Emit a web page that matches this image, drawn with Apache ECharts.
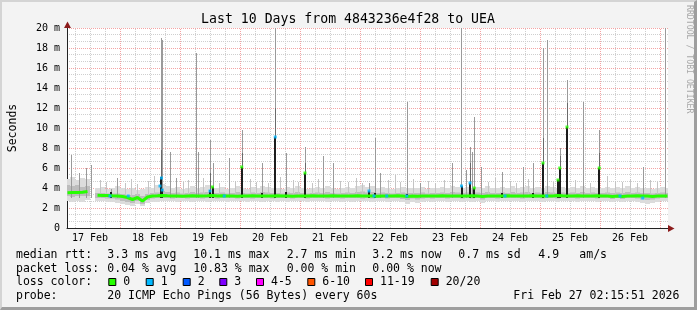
<!DOCTYPE html>
<html><head><meta charset="utf-8">
<script src="https://cdn.jsdelivr.net/npm/echarts@6/dist/echarts.min.js"></script>
<style>
html,body{margin:0;padding:0;background:#f3f3f3;}
#wrap{position:relative;width:697px;height:310px;overflow:hidden;}
#c{position:absolute;left:0;top:0;width:697px;height:310px;}
#frame{position:absolute;left:0;top:0;width:697px;height:310px;box-sizing:border-box;border-style:solid;border-width:2px 3px 3px 2px;border-color:#d4d4d4 #9e9e9e #9e9e9e #d4d4d4;pointer-events:none;}
</style></head><body>
<div id="wrap"><div id="c"></div><div id="frame"></div></div>
<script>
// ---------- DATA (hours since 17 Feb 00:00) ----------
const titleText = 'Last 10 Days from 4843236e4f28 to UEA';
const dayLabels = ['17 Feb','18 Feb','19 Feb','20 Feb','21 Feb','22 Feb','23 Feb','24 Feb','25 Feb','26 Feb'];
const dayLabelHours = [12,36,60,84,108,132,156,180,204,228];
const xMin = 2.8, xMax = 243.2;

// samples every 2 hours starting at hour 3
const sampleStart = 3, sampleStep = 2;
const median = [3.52,3.55,3.55,3.58,3.65,null,3.28,3.26,3.25,3.22,
 3.2,3.15,3.05,2.85,3.05,2.7,3.1,3.2,3.22,3.25,
 3.22,3.2,3.2,3.18,3.2,3.22,3.2,3.2,3.22,3.25,
 3.2,3.22,3.2,3.2,3.18,3.2,3.2,3.22,3.2,3.2,
 3.2,3.2,3.22,3.2,3.2,3.18,3.2,3.2,3.2,3.22,
 3.2,3.2,3.2,3.22,3.2,3.2,3.2,3.2,3.22,3.2,
 3.2,3.2,3.18,3.2,3.2,3.2,3.22,3.2,3.15,3.2,
 3.18,3.2,3.2,3.2,3.2,3.22,3.2,3.2,3.2,3.2,
 3.2,3.22,3.2,3.15,3.2,3.2,3.2,3.2,3.22,3.2,
 3.2,3.2,3.2,3.22,3.2,3.2,3.2,3.2,3.25,3.22,
 3.2,3.2,3.22,3.2,3.2,3.2,3.22,3.2,3.2,3.15,
 3.2,3.15,3.2,3.2,3.22,3.2,3.2,3.15,3.2,3.2,3.2];
const smokeLo = [2.7,2.6,2.7,2.6,2.8,null,2.7,2.7,2.6,2.6,
 2.5,2.4,2.3,2.2,2.4,2.2,2.5,2.6,2.6,2.7,
 2.7,2.7,2.6,2.7,2.7,2.6,2.7,2.7,2.6,2.7,
 2.7,2.7,2.6,2.7,2.7,2.7,2.6,2.7,2.7,2.6,
 2.7,2.7,2.6,2.7,2.6,2.7,2.7,2.7,2.6,2.7,
 2.7,2.7,2.6,2.7,2.7,2.6,2.7,2.6,2.7,2.7,
 2.7,2.6,2.7,2.7,2.6,2.7,2.7,2.6,2.4,2.6,
 2.5,2.6,2.7,2.6,2.7,2.7,2.6,2.7,2.7,2.6,
 2.7,2.6,2.7,2.5,2.7,2.7,2.6,2.7,2.7,2.7,
 2.7,2.6,2.7,2.7,2.7,2.6,2.7,2.7,2.6,2.7,
 2.7,2.7,2.6,2.7,2.7,2.7,2.6,2.7,2.7,2.6,
 2.7,2.6,2.7,2.7,2.6,2.5,2.4,2.5,2.6,2.7,2.7];
const smokeHi = [4.9,5.1,4.8,5.0,4.9,null,4.0,4.1,3.9,4.0,
 4.2,4.0,3.9,4.0,3.8,3.9,4.1,4.0,4.3,4.4,
 4.2,4.0,4.1,3.9,4.0,4.2,4.0,4.1,4.3,4.0,
 4.0,4.1,3.9,4.0,4.2,4.0,3.9,4.1,4.0,4.2,
 4.1,4.0,4.0,3.9,4.1,4.0,4.2,4.0,3.9,4.0,
 4.1,4.0,4.2,4.0,3.9,4.0,4.1,4.0,4.2,4.3,
 4.1,4.2,4.0,4.1,4.0,3.9,4.0,4.1,4.0,4.0,
 4.0,4.1,3.9,4.0,4.0,4.1,4.0,4.2,4.1,4.0,
 4.1,4.0,4.1,4.0,4.2,4.0,4.0,4.1,4.0,4.2,
 4.0,4.1,4.2,4.0,4.1,4.0,4.2,4.1,4.0,4.1,
 4.0,4.1,4.0,4.2,4.0,4.1,4.0,4.0,4.1,4.0,
 4.1,4.0,4.2,4.0,4.1,4.0,4.0,3.9,4.0,4.1,4.0];
const coreLo = [3.2,3.1,3.2,3.2,3.2,null,3.0,3.0,2.95,2.95,
 2.85,2.7,2.6,2.5,2.7,2.4,2.8,2.95,3.0,3.0,
 3.0,2.95,3.0,3.0,2.95,3.0,3.0,2.95,3.0,3.0,
 2.95,3.0,3.0,3.0,2.95,3.0,3.0,2.95,3.0,3.0,
 3.0,2.95,3.0,3.0,3.0,2.95,3.0,3.0,2.95,3.0,
 3.0,3.0,2.95,3.0,3.0,2.95,3.0,3.0,3.0,2.95,
 3.0,2.95,3.0,3.0,2.95,3.0,3.0,2.9,2.8,2.95,
 2.85,2.95,3.0,2.95,3.0,3.0,2.95,3.0,3.0,2.95,
 3.0,2.95,3.0,2.85,3.0,3.0,2.95,3.0,3.0,3.0,
 3.0,2.95,3.0,3.0,3.0,2.95,3.0,3.0,2.95,3.0,
 3.0,3.0,2.95,3.0,3.0,3.0,2.95,3.0,3.0,2.9,
 3.0,2.9,3.0,3.0,2.95,2.85,2.8,2.85,2.95,3.0,3.0];
const coreHi = [4.3,4.2,4.3,4.1,4.2,null,3.5,3.5,3.45,3.45,
 3.45,3.4,3.3,3.3,3.4,3.2,3.4,3.5,3.55,3.7,
 3.6,3.5,3.55,3.45,3.5,3.6,3.5,3.55,3.6,3.5,
 3.5,3.55,3.45,3.5,3.6,3.5,3.45,3.55,3.5,3.6,
 3.55,3.5,3.5,3.45,3.55,3.5,3.6,3.5,3.45,3.5,
 3.55,3.5,3.6,3.5,3.45,3.5,3.55,3.5,3.6,3.65,
 3.55,3.6,3.5,3.55,3.5,3.45,3.5,3.55,3.5,3.5,
 3.5,3.55,3.45,3.5,3.5,3.55,3.5,3.6,3.55,3.5,
 3.55,3.5,3.55,3.5,3.6,3.5,3.5,3.55,3.5,3.6,
 3.5,3.55,3.6,3.5,3.55,3.5,3.6,3.55,3.5,3.55,
 3.5,3.55,3.5,3.6,3.5,3.55,3.5,3.5,3.55,3.5,
 3.55,3.5,3.6,3.5,3.55,3.5,3.5,3.45,3.5,3.55,3.5];

// outlier pings (max of 20 pings) drawn as grey spikes
const spikeBase = 3.0;
const spikeHours = [4.4,7.6,10.3,12.3,20.4,22.8,40.3,40.9,43.8,46.4,54.2,55.0,60.0,61.0,67.6,72.7,80.7,86.1,90.4,98.0,
 105.2,109.2,123.6,126.0,128.0,138.7,144.0,156.7,160.3,162.4,164.0,164.7,165.7,168.4,176.7,185.3,189.3,193.2,194.9,199.9,
 202.8,209.3,215.7,233.2,242.0];
const spikeTops = [7.3,5.5,6.0,6.3,3.9,5.0,19.0,18.8,7.6,5.0,17.5,7.6,8.8,6.5,7.0,9.8,6.5,20.0,7.5,8.1,
 7.2,6.5,4.5,9.0,5.5,12.6,4.5,6.5,20.0,5.8,8.1,7.6,11.1,6.1,5.6,6.1,6.5,18.0,18.8,8.0,
 14.8,12.6,9.8,6.1,20.0];
// middle-density smoke above the outliers' base
const midHours = [40.3,60.0,72.7,86.1,98.0,164.0,193.2,199.9,202.8,215.7];
const midTops  = [7.8,5.5,7.5,12.0,6.5,6.5,9.0,7.2,12.5,7.5];
// faint smoke wisps
const wispHours = [16,18.4,26,28.4,30.8,35.2,37.6,49.2,51.2,57.2,63.6,70,76,78.4,83.2,88,93.2,95.2,100.8,103.2,
 112,115.2,118.4,120.8,131.2,134,136,141.2,147.2,150,153.6,171.2,174,180,182.4,187.2,197.2,206,212,218.8,
 222,224.8,228,230.8,236,238.8];
const wispTops = [4.8,4.6,4.5,4.9,4.4,4.7,5.2,4.6,4.8,5.0,4.5,4.7,4.9,4.6,4.5,5.1,4.8,4.6,4.5,4.9,
 4.7,4.6,5.0,4.5,4.8,5.3,4.6,4.9,4.7,4.5,4.8,4.6,5.0,4.7,4.5,4.9,4.6,4.8,4.5,5.2,
 4.7,4.6,4.9,4.5,4.8,4.6];
// dense smoke bars (all pings high)
const barHours = [20.4,40.3,40.9,60.0,61.0,72.7,80.7,86.1,90.4,98.0,123.6,126.0,138.7,160.6,164.0,165.7,176.7,189.3,193.2,199.2,199.9,202.8,215.7];
const barTops  = [3.6,5.1,3.9,3.8,4.1,6.1,3.5,9.1,3.6,5.5,3.7,3.5,3.4,4.2,4.5,4.0,3.5,3.5,6.5,4.8,6.0,10.1,6.0];
// median samples coloured by loss (index into lossColors)
const lossDotHours = [40.0,40.6,40.9,60.0,61.0,72.7,86.1,98.0,123.6,160.6,164.0,165.7,193.2,199.2,199.9,202.8,215.7,
 20.0,27.3,65.7,125.6,130.7,138.7,178.0,194.7,224.0,233.1];
const lossDotValues = [4.2,5.0,3.8,3.7,4.1,6.1,9.1,5.5,3.7,4.2,4.5,4.0,6.5,4.8,6.0,10.1,6.0,
 3.2,3.2,3.2,3.2,3.2,3.2,3.2,3.2,3.2,3.0];
const lossDotLevel = [1,1,1,1,0,0,1,0,1,1,1,0,0,0,0,0,0,
 1,1,1,1,1,1,1,1,1,1];

const lossLabels = ['0','1','2','3','4-5','6-10','11-19','20/20'];
const lossColors = ['#26ff00','#00b8ff','#0059ff','#7e00ff','#ff00fe','#ff5500','#ff0000','#a10000'];

const statRows = [
  ['median rtt:','3.3 ms avg','10.1 ms max','2.7 ms min','3.2 ms now','0.7 ms sd','4.9','am/s'],
  ['packet loss:','0.04 % avg','10.83 % max','0.00 % min','0.00 % now']
];
const probeRow = ['probe:','20 ICMP Echo Pings (56 Bytes) every 60s','Fri Feb 27 02:15:51 2026'];
const sideText = 'RRDTOOL / TOBI OETIKER';

// ---------- BUILD ----------
const MONO = '"DejaVu Sans Mono", monospace';
const sampleHours = median.map((_, i) => sampleStart + sampleStep * i);
const medianData = median.map((v, i) => [sampleHours[i], v]);
const smokeData = [];
median.forEach((_, i) => { if (smokeLo[i] != null) smokeData.push([sampleHours[i], smokeLo[i], smokeHi[i], coreLo[i], coreHi[i]]); });
const spikeData = spikeHours.map((h, i) => [h, spikeTops[i], spikeBase]);
const midData = midHours.map((h, i) => [h, midTops[i], spikeBase]);
const wispData = wispHours.map((h, i) => [h, wispTops[i], spikeBase]);
const barData = barHours.map((h, i) => [h, barTops[i], spikeBase]);
const dotData = lossDotHours.map((h, i) => ({ value: [h, lossDotValues[i]], itemStyle: { color: lossColors[lossDotLevel[i]] } }));

const vGrid = [];
for (let h = 6; h < xMax; h += 6) if (h > xMin) vGrid.push([h, h % 24 === 0 ? 1 : 0]);

function lineRenderer(color, width) {
  return function (params, api) {
    const p1 = api.coord([api.value(0), api.value(2)]);
    const p2 = api.coord([api.value(0), api.value(1)]);
    const x = width % 2 ? Math.round(p1[0]) + 0.5 : Math.round(p1[0]);
    return { type: 'line', shape: { x1: x, y1: p1[1], x2: x, y2: p2[1] }, style: { stroke: color, lineWidth: width } };
  };
}

const graphics = [];
graphics.push({ type: 'text', x: 348, y: 19.5, silent: true, style: { text: titleText, font: '13.2px ' + MONO, fill: '#000', align: 'center', verticalAlign: 'middle' } });
graphics.push({ type: 'text', x: 689, y: 5, rotation: -Math.PI / 2, silent: true, style: { text: sideText, font: '8.2px ' + MONO, fill: '#a8a8a8', align: 'left', verticalAlign: 'middle' } });
const colX = [16, 107.3, 193.3, 286.7, 372.3, 458.3, 538.3, 579.3];
const rowY = [255.5, 269, 282.5, 296.3];
statRows.forEach((row, r) => row.forEach((t, k) => graphics.push({ type: 'text', x: colX[k], y: rowY[r], silent: true, style: { text: t, font: '11.5px ' + MONO, fill: '#000', align: 'left', verticalAlign: 'middle' } })));
graphics.push({ type: 'text', x: 16, y: rowY[2], silent: true, style: { text: 'loss color:', font: '11.5px ' + MONO, fill: '#000', align: 'left', verticalAlign: 'middle' } });
const boxX = [108.3, 145.7, 182.7, 219.3, 256, 307.3, 365, 430.7];
lossLabels.forEach((l, k) => {
  graphics.push({ type: 'rect', silent: true, shape: { x: boxX[k] + 0.5, y: 278.5, width: 7, height: 7 }, style: { fill: lossColors[k], stroke: '#000', lineWidth: 1 } });
  graphics.push({ type: 'text', x: boxX[k] + 15, y: rowY[2], silent: true, style: { text: l, font: '11.5px ' + MONO, fill: '#000', align: 'left', verticalAlign: 'middle' } });
});
[16, 107.3, 513.3].forEach((x, k) => graphics.push({ type: 'text', x: x, y: rowY[3], silent: true, style: { text: probeRow[k], font: '11.5px ' + MONO, fill: '#000', align: 'left', verticalAlign: 'middle' } }));
// axis arrows
graphics.push({ type: 'polygon', silent: true, z: 10, shape: { points: [[67.5, 21.5], [64, 28], [71, 28]] }, style: { fill: '#8c1c1c' } });
graphics.push({ type: 'polygon', silent: true, z: 10, shape: { points: [[674.5, 228.5], [668, 225], [668, 232]] }, style: { fill: '#8c1c1c' } });

const chart = echarts.init(document.getElementById('c'), null, { renderer: 'canvas' });
chart.setOption({
  backgroundColor: '#f3f3f3',
  animation: false,
  grid: { left: 67, right: 29, top: 28, bottom: 82, show: true, backgroundColor: '#ffffff', borderWidth: 0,
          containLabel: false, outerBoundsMode: 'none' },
  xAxis: {
    type: 'value', min: xMin, max: xMax,
    axisLine: { show: true, lineStyle: { color: '#222', width: 1 } },
    axisTick: { show: false },
    splitLine: { show: false },
    axisLabel: {
      customValues: dayLabelHours,
      formatter: v => dayLabels[dayLabelHours.indexOf(Math.round(v))] || '',
      fontFamily: MONO, fontSize: 10, color: '#000', margin: 5
    }
  },
  yAxis: {
    type: 'value', min: 0, max: 20, interval: 2,
    name: 'Seconds', nameLocation: 'middle', nameRotate: 90, nameGap: 48,
    nameTextStyle: { fontFamily: MONO, fontSize: 11.5, color: '#000' },
    axisLine: { show: true, lineStyle: { color: '#222', width: 1 } },
    axisTick: { show: false },
    axisLabel: { formatter: v => v === 0 ? '0' : v + ' m', fontFamily: MONO, fontSize: 10, color: '#000', margin: 7 },
    splitLine: { show: true, lineStyle: { color: 'rgba(235,90,90,0.55)', type: [1, 1], width: 1 } },
    minorTick: { show: false, splitNumber: 3 },
    minorSplitLine: { show: true, lineStyle: { color: '#cfcfcf', type: [1, 1], width: 1 } }
  },
  graphic: graphics,
  series: [
    { type: 'custom', name: 'vgrid', silent: true, z: 1, clip: true, data: vGrid,
      renderItem: function (params, api) {
        const p1 = api.coord([api.value(0), 0]), p2 = api.coord([api.value(0), 20]);
        const x = Math.round(p1[0]) + 0.5;
        return { type: 'line', shape: { x1: x, y1: p1[1], x2: x, y2: p2[1] },
          style: { stroke: api.value(1) ? 'rgba(235,90,90,0.55)' : '#cfcfcf', lineWidth: 1, lineDash: [1, 1] } };
      } },
    { type: 'custom', name: 'smoke', silent: true, z: 2, clip: true, data: smokeData,
      renderItem: function (params, api) {
        const h = api.value(0);
        const a = api.coord([h - sampleStep / 2, api.value(2)]), b = api.coord([h + sampleStep / 2, api.value(1)]);
        const c = api.coord([h - sampleStep / 2, api.value(4)]), d = api.coord([h + sampleStep / 2, api.value(3)]);
        return { type: 'group', children: [
          { type: 'rect', shape: { x: a[0], y: a[1], width: b[0] - a[0], height: b[1] - a[1] }, style: { fill: '#dcdcdc' } },
          { type: 'rect', shape: { x: c[0], y: c[1], width: d[0] - c[0], height: d[1] - c[1] }, style: { fill: '#bdbdbd' } }
        ] };
      } },
    { type: 'custom', name: 'wisps', silent: true, z: 3, clip: true, data: wispData, renderItem: lineRenderer('#c4c4c4', 1) },
    { type: 'custom', name: 'spikes', silent: true, z: 4, clip: true, data: spikeData, renderItem: lineRenderer('#9a9a9a', 1) },
    { type: 'custom', name: 'midsmoke', silent: true, z: 4, clip: true, data: midData, renderItem: lineRenderer('#6a6a6a', 1) },
    { type: 'custom', name: 'dense', silent: true, z: 5, clip: true, data: barData, renderItem: lineRenderer('#1c1c1c', 2) },
    { type: 'line', name: 'median', silent: true, z: 6, data: medianData, showSymbol: false, connectNulls: false,
      lineStyle: { color: '#26ff00', width: 3 } },
    { type: 'scatter', name: 'loss', silent: true, z: 7, data: dotData, symbol: 'rect', symbolSize: [3, 3] }
  ]
});
</script>
</body></html>
